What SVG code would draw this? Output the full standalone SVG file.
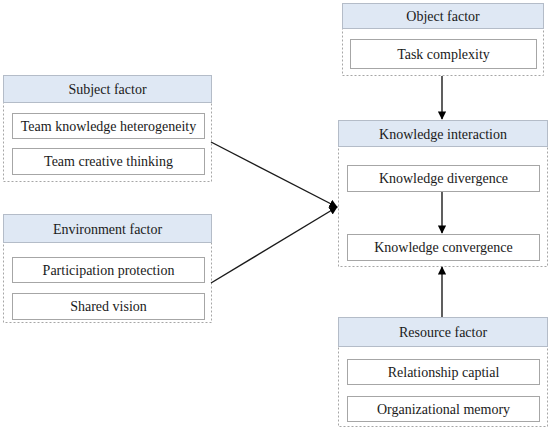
<svg xmlns="http://www.w3.org/2000/svg" width="550" height="431" viewBox="0 0 550 431">
<defs>
<style>
.outer{fill:#fff;stroke:#a6a6a6;stroke-width:1;stroke-dasharray:2,2}
.hdr{fill:#dfe8f4;stroke:#b4bcc8;stroke-width:1}
.inner{fill:#fff;stroke:#a6a6a6;stroke-width:1}
.t{font-family:"Liberation Serif","Noto Serif","DejaVu Serif",FreeSerif,Tinos,"Times New Roman",Times,serif;font-size:14px;fill:#1a1a1a;text-anchor:middle}
.conn{stroke:#1a1a1a;stroke-width:1.4;fill:none;marker-end:url(#ah)}
</style>
<marker id="ah" viewBox="0 0 10 10" refX="9" refY="5" markerWidth="6" markerHeight="6" markerUnits="strokeWidth" orient="auto">
<path d="M0,0 L10,5 L0,10 z" fill="#000"/>
</marker>
</defs>
<rect width="550" height="431" fill="#fff"/>
<g id="subject">
<rect class="outer" x="3.5" y="75.5" width="208" height="106"/>
<rect class="hdr" x="3.5" y="75.5" width="208" height="27"/>
<text class="t" x="107.5" y="94">Subject factor</text>
<rect class="inner" x="12.5" y="113.5" width="192" height="25"/>
<text class="t" x="108.5" y="131">Team knowledge heterogeneity</text>
<rect class="inner" x="12.5" y="148.5" width="192" height="26"/>
<text class="t" x="108.5" y="166">Team creative thinking</text>
</g>
<g id="environment">
<rect class="outer" x="3.5" y="214.5" width="208" height="108"/>
<rect class="hdr" x="3.5" y="214.5" width="208" height="28"/>
<text class="t" x="107.5" y="233.5">Environment factor</text>
<rect class="inner" x="12.5" y="257.5" width="192" height="25"/>
<text class="t" x="108.5" y="275">Participation protection</text>
<rect class="inner" x="12.5" y="293.5" width="192" height="26"/>
<text class="t" x="108.5" y="311">Shared vision</text>
</g>
<g id="object">
<rect class="outer" x="342.5" y="3.5" width="201" height="72"/>
<rect class="hdr" x="342.5" y="3.5" width="201" height="25"/>
<text class="t" x="443" y="21">Object factor</text>
<rect class="inner" x="350.5" y="39.5" width="186" height="29"/>
<text class="t" x="443.5" y="59">Task complexity</text>
</g>
<g id="knowledge">
<rect class="outer" x="338.5" y="120.5" width="209" height="146"/>
<rect class="hdr" x="338.5" y="120.5" width="209" height="26"/>
<text class="t" x="443" y="138.5">Knowledge interaction</text>
<rect class="inner" x="347.5" y="165.5" width="192" height="26"/>
<text class="t" x="443.5" y="183">Knowledge divergence</text>
<rect class="inner" x="347.5" y="234.5" width="192" height="26"/>
<text class="t" x="443.5" y="252">Knowledge convergence</text>
</g>
<g id="resource">
<rect class="outer" x="338.5" y="317.5" width="209" height="109"/>
<rect class="hdr" x="338.5" y="317.5" width="209" height="29"/>
<text class="t" x="443" y="336.5">Resource factor</text>
<rect class="inner" x="347.5" y="359.5" width="192" height="25"/>
<text class="t" x="443.5" y="377">Relationship captial</text>
<rect class="inner" x="347.5" y="396.5" width="192" height="25"/>
<text class="t" x="443.5" y="414">Organizational memory</text>
</g>
<g id="connectors">
<line class="conn" x1="442" y1="76" x2="442" y2="119"/>
<line class="conn" x1="442" y1="192" x2="442" y2="233"/>
<line class="conn" x1="442" y1="317" x2="442" y2="267"/>
<line class="conn" x1="211" y1="142" x2="337" y2="207"/>
<line class="conn" x1="211" y1="283" x2="337" y2="207"/>
</g>
</svg>
